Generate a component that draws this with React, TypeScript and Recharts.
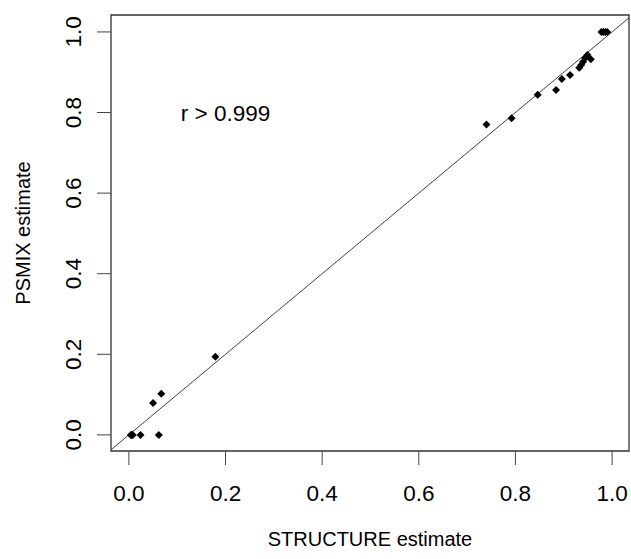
import {
  ScatterChart,
  Scatter,
  XAxis,
  YAxis,
  ReferenceLine,
  ReferenceArea,
  ReferenceDot,
  Label,
} from "recharts";

// STRUCTURE vs PSMIX admixture estimates
const structureEst = [
  0.004, 0.006, 0.008, 0.024, 0.062, 0.05, 0.067, 0.179, 0.74, 0.792, 0.846, 0.884, 0.896,
  0.913, 0.932, 0.936, 0.94, 0.944, 0.949, 0.956, 0.978, 0.982, 0.986, 0.99,
];
const psmixEst = [
  0, 0, 0, 0, 0, 0.079, 0.102, 0.194, 0.77, 0.786, 0.844, 0.856, 0.883, 0.893, 0.911, 0.918,
  0.926, 0.935, 0.943, 0.932, 1.0, 1.0, 1.0, 1.0,
];
const axisTicks = [0, 0.2, 0.4, 0.6, 0.8, 1.0];

const xDomain = [-0.037, 1.035];
const yDomain = [-0.04, 1.042];

const points = structureEst.map((x, i) => ({ x, y: psmixEst[i] }));

const FONT = "'Liberation Sans', Arial, sans-serif";
const fmt = (v: number) => v.toFixed(1);

const Diamond = (props: any) => {
  const { cx, cy } = props;
  const r = 4;
  return (
    <polygon
      points={`${cx},${cy - r} ${cx + r},${cy} ${cx},${cy + r} ${cx - r},${cy}`}
      fill="#000"
    />
  );
};

const YTick = (props: any) => {
  const { x, y, payload } = props;
  const bx = x - 16;
  return (
    <text
      x={bx}
      y={y}
      transform={`rotate(-90, ${bx}, ${y})`}
      textAnchor="middle"
      fontSize={22.5}
      fontFamily={FONT}
      fill="#000"
    >
      {fmt(payload.value)}
    </text>
  );
};

export default function App() {
  return (
    <div style={{ position: "absolute", left: 0, top: 0, background: "#fff" }}>
      <ScatterChart
        width={631}
        height={559}
        margin={{ top: 15, right: 2, bottom: 0, left: 0 }}
      >
        <XAxis
          type="number"
          dataKey="x"
          domain={xDomain}
          allowDataOverflow
          ticks={axisTicks}
          tickFormatter={fmt}
          axisLine={false}
          tickSize={14}
          tickMargin={20}
          height={108}
          tickLine={{ stroke: "#444" }}
          tick={{ fontSize: 22.5, fontFamily: FONT, fill: "#000" }}
        >
          <Label
            value="STRUCTURE estimate"
            position="insideBottom"
            offset={13}
            style={{ fontSize: 20, fontFamily: FONT, fill: "#000" }}
          />
        </XAxis>
        <YAxis
          type="number"
          dataKey="y"
          domain={yDomain}
          allowDataOverflow
          ticks={axisTicks}
          axisLine={false}
          tickSize={14}
          tickMargin={0}
          width={111}
          tickLine={{ stroke: "#444" }}
          tick={<YTick />}
        >
          <Label
            content={() => (
              <text
                x={30}
                y={233}
                transform="rotate(-90, 30, 233)"
                textAnchor="middle"
                fontSize={20}
                fontFamily={FONT}
                fill="#000"
              >
                PSMIX estimate
              </text>
            )}
          />
        </YAxis>
        <ReferenceArea
          x1={xDomain[0]}
          x2={xDomain[1]}
          y1={yDomain[0]}
          y2={yDomain[1]}
          fill="none"
          stroke="#333"
          strokeWidth={1.3}
        />
        <ReferenceLine
          segment={[
            { x: xDomain[0], y: xDomain[0] },
            { x: xDomain[1], y: xDomain[1] },
          ]}
          stroke="#444"
          strokeWidth={1}
          ifOverflow="hidden"
        />
        <ReferenceDot
          x={0.2}
          y={0.8}
          r={0}
          fill="none"
          stroke="none"
          label={{
            value: "r > 0.999",
            position: "center",
            style: { fontSize: 22.5, fontFamily: FONT, fill: "#000" },
          }}
        />
        <Scatter data={points} shape={<Diamond />} isAnimationActive={false} />
      </ScatterChart>
    </div>
  );
}
